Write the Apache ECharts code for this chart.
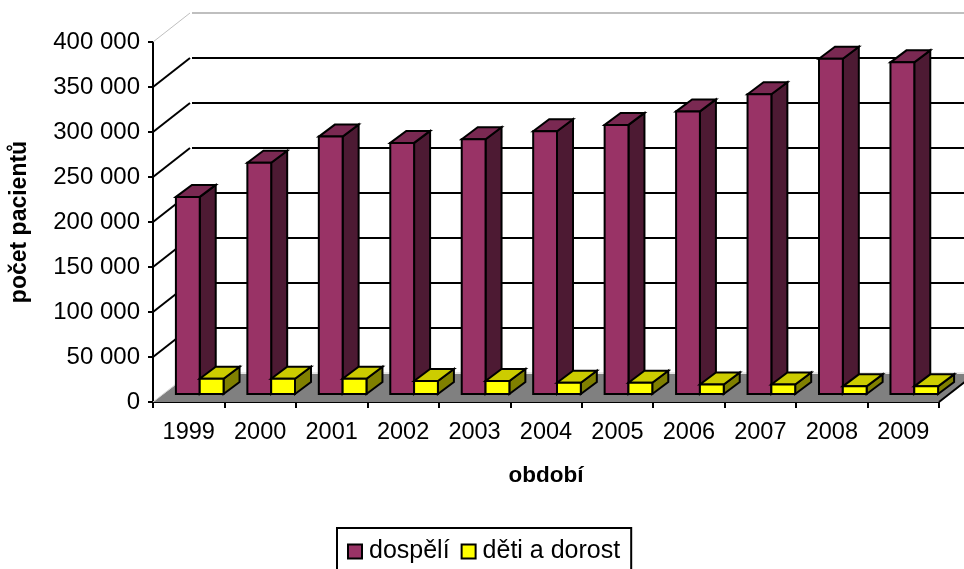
<!DOCTYPE html>
<html><head><meta charset="utf-8">
<style>html,body{margin:0;padding:0;background:#fff}#c{width:964px;height:569px}</style>
<script src="https://cdn.jsdelivr.net/npm/echarts@6/dist/echarts.min.js"></script>
</head><body><div id="c"></div>
<script>
const categories = ['1999','2000','2001','2002','2003','2004','2005','2006','2007','2008','2009'];
const dospeli = [219000,257000,286000,279000,283000,292000,299000,314000,333000,372500,368500];
const detiADorost = [17000,17000,17000,14500,14500,12500,12500,10500,10500,8500,8500];
const gridValues = [0,50000,100000,150000,200000,250000,300000,350000,400000];
const gridLabels = ['0','50 000','100 000','150 000','200 000','250 000','300 000','350 000','400 000'];
const seriesNames = ['dospělí','děti a dorost'];

const FONT = '"Liberation Sans", Arial, sans-serif';
const WALL = [37, -29];     // projection of the chart depth
const PLANE = [11, -8];     // front plane of the bars relative to the axis plane
const DEPTH = [16, -12];    // depth of a bar
const purple = {front:'#993366', top:'#7a2952', side:'#4d1a33'};
const yellow = {front:'#ffff00', top:'#cccc00', side:'#808000'};
const EDGE = {stroke:'#000', lineWidth:2, lineJoin:'miter'};

function poly(points, fill){
  return {type:'polygon', silent:true, shape:{points}, style:Object.assign({fill}, EDGE)};
}
function barItem(pal, side){
  return function(params, api){
    const i = api.value(0), v = api.value(1);
    const band = api.size([1,0])[0];
    const w = band/3;
    const c = api.coord([i,v]), b = api.coord([i,0]);
    const x0 = c[0] + PLANE[0] + (side<0 ? -w : 0), x1 = x0 + w;
    const yt = c[1] + PLANE[1], yb = b[1] + PLANE[1];
    const [dx,dy] = DEPTH;
    return {type:'group', silent:true, children:[
      poly([[x1,yb],[x1+dx,yb+dy],[x1+dx,yt+dy],[x1,yt]], pal.side),
      poly([[x0,yt],[x0+dx,yt+dy],[x1+dx,yt+dy],[x1,yt]], pal.top),
      poly([[x0,yb],[x1,yb],[x1,yt],[x0,yt]], pal.front)
    ]};
  };
}
function wallItem(params, api){
  const v = api.value(1);
  const band = api.size([1,0])[0];
  const p = api.coord([0,v]);
  const xl = p[0]-band/2;
  const xr = api.coord([categories.length-1,v])[0]+band/2;
  const y = p[1];
  const bx = xl+WALL[0], by = y+WALL[1];
  const max = gridValues[gridValues.length-1];
  if (v === 0) {
    return {type:'group', silent:true, children:[
      {type:'line', shape:{x1:bx,y1:by,x2:xr+WALL[0],y2:by}, style:{stroke:'#d4d4d4',lineWidth:1}},
      {type:'polygon', shape:{points:[[xl,y],[bx,by+1],[xr+WALL[0],by+1],[xr,y]]}, style:{fill:'#808080',stroke:null}},
      {type:'line', shape:{x1:xl,y1:y,x2:bx,y2:by}, style:{stroke:'#d4d4d4',lineWidth:1}},
      {type:'line', shape:{x1:xr,y1:y,x2:xr+WALL[0],y2:by}, style:{stroke:'#000',lineWidth:2}}
    ]};
  }
  const col = v === max ? '#bfbfbf' : '#000';
  return {type:'group', silent:true, children:[
    {type:'line', shape:{x1:xl,y1:y,x2:bx,y2:by}, style:{stroke:col,lineWidth:v===max?1:2}},
    {type:'line', shape:{x1:bx+2,y1:by,x2:xr+WALL[0],y2:by}, style:{stroke:col,lineWidth:2}}
  ]};
}
const chart = echarts.init(document.getElementById('c'), null, {renderer:'canvas'});
chart.setOption({
  animation:false,
  backgroundColor:'#fff',
  grid:{left:153, right:25, top:42, bottom:167, containLabel:false, outerBoundsMode:'none'},
  legend:{
    left:337, top:528,
    padding:[11,11,24,10],
    borderColor:'#000', borderWidth:2,
    itemWidth:14, itemHeight:14, itemGap:11, orient:'horizontal',
    selectedMode:false,
    textStyle:{fontFamily:FONT, fontSize:25, color:'#000', padding:[0,0,0,2]},
    data:[
      {name:seriesNames[0], icon:'rect', itemStyle:{color:purple.front, borderColor:'#000', borderWidth:2}},
      {name:seriesNames[1], icon:'rect', itemStyle:{color:yellow.front, borderColor:'#000', borderWidth:2}}
    ]
  },
  xAxis:{
    type:'category', data:categories,
    name:'období', nameLocation:'middle', nameGap:62,
    nameTextStyle:{fontFamily:FONT, fontSize:22.5, fontWeight:'bold', color:'#000'},
    axisLine:{show:true, onZero:false, lineStyle:{color:'#000', width:2}},
    axisTick:{show:true, length:6, lineStyle:{color:'#000', width:2}},
    axisLabel:{fontFamily:FONT, fontSize:23.5, color:'#000', margin:19, interval:0},
    splitLine:{show:false}
  },
  yAxis:{
    type:'value', min:0, max:400000, interval:50000,
    name:'počet pacientů', nameLocation:'middle', nameGap:122, nameRotate:90,
    nameTextStyle:{fontFamily:FONT, fontSize:23, fontWeight:'bold', color:'#000'},
    axisLine:{show:true, lineStyle:{color:'#000', width:2}},
    axisTick:{show:true, length:5, lineStyle:{color:'#000', width:2}},
    axisLabel:{fontFamily:FONT, fontSize:24, color:'#000', margin:13, padding:[4,0,0,0],
      formatter:(v)=>gridLabels[gridValues.indexOf(v)]},
    splitLine:{show:false}
  },
  series:[
    {type:'custom', name:'walls', z:1, renderItem:wallItem, encode:{x:0,y:1},
     data:gridValues.map(v=>[0,v]), silent:true, clip:false},
    {type:'custom', name:seriesNames[0], z:3, renderItem:barItem(purple,-1), encode:{x:0,y:1},
     data:dospeli.map((v,i)=>[i,v]), silent:true, clip:false, itemStyle:{color:purple.front}},
    {type:'custom', name:seriesNames[1], z:4, renderItem:barItem(yellow,1), encode:{x:0,y:1},
     data:detiADorost.map((v,i)=>[i,v]), silent:true, clip:false, itemStyle:{color:yellow.front}}
  ]
});
</script></body></html>
